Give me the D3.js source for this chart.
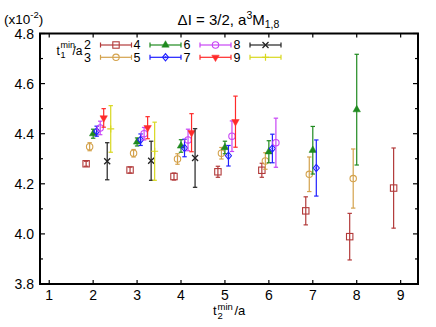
<!DOCTYPE html>
<html>
<head>
<meta charset="utf-8">
<script src="https://cdn.jsdelivr.net/npm/d3@7"></script>
<style>
html,body{margin:0;padding:0;background:#fff;}
svg{display:block;font-family:"Liberation Sans",Arial,Helvetica,sans-serif;}
</style>
</head>
<body>
<svg id="chart" width="436" height="327"></svg>
<script>
// ---- data ----
const t2Values = [2, 3, 4, 5, 6, 7, 8, 9];
const t1Labels = [2, 3, 4, 5, 6, 7, 8, 9];
const s2Val = [4.280, 4.255, 4.229, 4.248, 4.254, 4.092, 3.989, 4.183];
const s2Err = [0.010, 0.012, 0.014, 0.022, 0.028, 0.056, 0.093, 0.160];
const s3Val = [4.348, 4.322, 4.299, 4.322, 4.291, 4.238, 4.221];
const s3Err = [0.016, 0.015, 0.021, 0.023, 0.033, 0.069, 0.118];
const s4Val = [4.400, 4.367, 4.351, 4.345, 4.328, 4.334, 4.496];
const s4Err = [0.018, 0.016, 0.025, 0.025, 0.044, 0.095, 0.221];
const s5Val = [4.410, 4.376, 4.343, 4.312, 4.341, 4.263];
const s5Err = [0.020, 0.023, 0.035, 0.041, 0.057, 0.112];
const s6Val = [4.423, 4.400, 4.375, 4.390, 4.364];
const s6Err = [0.027, 0.025, 0.043, 0.061, 0.098];
const s7Val = [4.463, 4.424, 4.404, 4.448];
const s7Err = [0.037, 0.044, 0.076, 0.102];
const s8Val = [4.290, 4.292, 4.303];
const s8Err = [0.074, 0.078, 0.117];
const s9Val = [4.419, 4.330];
const s9Err = [0.093, 0.116];
const xTicks = [1, 2, 3, 4, 5, 6, 7, 8, 9];
const yTicks = [3.8, 4.0, 4.2, 4.4, 4.6, 4.8];

const seriesVals = [s2Val, s3Val, s4Val, s5Val, s6Val, s7Val, s8Val, s9Val];
const seriesErrs = [s2Err, s3Err, s4Err, s5Err, s6Err, s7Err, s8Err, s9Err];
const colors = ["#b23a3a", "#d4a24c", "#1f8a1f", "#1f1fff", "#c845f5", "#ff2a2a", "#222222", "#d8d820"];
const shapes = ["square", "circle", "triUp", "diamond", "circle", "triDown", "cross", "plus"];

// ---- layout ----
const L = 40, R = 418, T = 33.5, B = 284;
const svg = d3.select("#chart");
const x = d3.scaleLinear().domain([0.79, 9.395]).range([L, R]);
const y = d3.scaleLinear().domain([3.8, 4.8]).range([B, T]);
const offsetStep = 0.08;

// ticks
const g = svg.append("g");
const minorY = d3.range(3.9, 4.8, 0.2);
yTicks.forEach(v => {
  g.append("line").attr("x1", L).attr("x2", L + 5).attr("y1", y(v)).attr("y2", y(v)).attr("stroke", "#000").attr("stroke-width", 1.2);
  g.append("line").attr("x1", R).attr("x2", R - 5).attr("y1", y(v)).attr("y2", y(v)).attr("stroke", "#000").attr("stroke-width", 1.2);
  g.append("text").attr("x", 34).attr("y", y(v) + 5).attr("text-anchor", "end").attr("font-size", 14).text(v.toFixed(1));
});
minorY.forEach(v => {
  g.append("line").attr("x1", L).attr("x2", L + 3).attr("y1", y(v)).attr("y2", y(v)).attr("stroke", "#000").attr("stroke-width", 1.2);
  g.append("line").attr("x1", R).attr("x2", R - 3).attr("y1", y(v)).attr("y2", y(v)).attr("stroke", "#000").attr("stroke-width", 1.2);
});
xTicks.forEach(v => {
  g.append("line").attr("x1", x(v)).attr("x2", x(v)).attr("y1", B).attr("y2", B - 4).attr("stroke", "#000").attr("stroke-width", 1.2);
  g.append("line").attr("x1", x(v)).attr("x2", x(v)).attr("y1", T).attr("y2", T + 4).attr("stroke", "#000").attr("stroke-width", 1.2);
  g.append("text").attr("x", x(v)).attr("y", 300).attr("text-anchor", "middle").attr("font-size", 14).text(v);
});

// frame
svg.append("rect").attr("x", L).attr("y", T).attr("width", R - L).attr("height", B - T)
  .attr("fill", "none").attr("stroke", "#000").attr("stroke-width", 2);

// symbol drawer
function drawSymbol(sel, shape, cx, cy, color) {
  const sw = 1.1;
  if (shape === "square") {
    sel.append("rect").attr("x", cx - 3.2).attr("y", cy - 3.2).attr("width", 6.4).attr("height", 6.4)
      .attr("fill", "none").attr("stroke", color).attr("stroke-width", sw);
  } else if (shape === "circle") {
    sel.append("circle").attr("cx", cx).attr("cy", cy).attr("r", 3.2)
      .attr("fill", "none").attr("stroke", color).attr("stroke-width", sw);
  } else if (shape === "triUp") {
    sel.append("path").attr("d", d3.symbol(d3.symbolTriangle, 24)()).attr("transform", `translate(${cx},${cy})`)
      .attr("fill", color).attr("stroke", color).attr("stroke-width", 0.5);
  } else if (shape === "triDown") {
    sel.append("path").attr("d", d3.symbol(d3.symbolTriangle, 24)()).attr("transform", `translate(${cx},${cy}) rotate(180)`)
      .attr("fill", color).attr("stroke", color).attr("stroke-width", 0.5);
  } else if (shape === "diamond") {
    sel.append("path").attr("d", `M${cx},${cy - 3.6}L${cx + 3},${cy}L${cx},${cy + 3.6}L${cx - 3},${cy}Z`)
      .attr("fill", "none").attr("stroke", color).attr("stroke-width", sw);
    sel.append("circle").attr("cx", cx).attr("cy", cy).attr("r", 1).attr("fill", color);
  } else if (shape === "cross") {
    sel.append("path").attr("d", `M${cx - 3},${cy - 3}L${cx + 3},${cy + 3}M${cx - 3},${cy + 3}L${cx + 3},${cy - 3}`)
      .attr("stroke", color).attr("stroke-width", 1.3);
  } else if (shape === "plus") {
    sel.append("path").attr("d", `M${cx - 3.5},${cy}L${cx + 3.5},${cy}M${cx},${cy - 3.5}L${cx},${cy + 3.5}`)
      .attr("stroke", color).attr("stroke-width", 1.2);
  }
}

// data points
const pts = svg.append("g");
seriesVals.forEach((vals, si) => {
  const col = colors[si];
  const sg = pts.append("g");
  vals.forEach((v, i) => {
    const xv = x(t2Values[i] + (t1Labels[si] - 4) * offsetStep);
    const e = seriesErrs[si][i];
    const y1 = y(v + e), y2 = y(v - e);
    sg.append("line").attr("x1", xv).attr("x2", xv).attr("y1", y1).attr("y2", y2).attr("stroke", col).attr("stroke-width", 1.2);
    sg.append("line").attr("x1", xv - 2.2).attr("x2", xv + 2.2).attr("y1", y1).attr("y2", y1).attr("stroke", col).attr("stroke-width", 1.2);
    sg.append("line").attr("x1", xv - 2.2).attr("x2", xv + 2.2).attr("y1", y2).attr("y2", y2).attr("stroke", col).attr("stroke-width", 1.2);
    drawSymbol(sg, shapes[si], xv, y(v), col);
  });
});

// legend
const lg = svg.append("g");
const colX = [100.5, 150, 200, 250];
const rowY = [45, 57.3];
t1Labels.forEach((lab, si) => {
  const c = Math.floor(si / 2), r = si % 2;
  const x0 = colX[c], x1 = x0 + 31, yy = rowY[r], col = colors[si];
  lg.append("text").attr("x", x0 - 9.5).attr("y", yy + 4.3).attr("text-anchor", "end").attr("font-size", 12.5).text(lab);
  lg.append("line").attr("x1", x0).attr("x2", x1).attr("y1", yy).attr("y2", yy).attr("stroke", col).attr("stroke-width", 1.2);
  lg.append("line").attr("x1", x0).attr("x2", x0).attr("y1", yy - 2.5).attr("y2", yy + 2.5).attr("stroke", col).attr("stroke-width", 1.2);
  lg.append("line").attr("x1", x1).attr("x2", x1).attr("y1", yy - 2.5).attr("y2", yy + 2.5).attr("stroke", col).attr("stroke-width", 1.2);
  drawSymbol(lg, shapes[si], (x0 + x1) / 2, yy, col);
});
// legend title t1^min/a (single text, stacked sub/superscript)
const lt = lg.append("text").attr("x", 56.5).attr("y", 54.5).attr("font-size", 12);
lt.append("tspan").text("t");
lt.append("tspan").attr("x", 60.5).attr("y", 47.5).attr("font-size", 9).text("min");
lt.append("tspan").attr("x", 60.5).attr("y", 57.5).attr("font-size", 9).text("1");
lt.append("tspan").attr("x", 72.5).attr("y", 54.5).text("/a");

// title
const title = svg.append("text").attr("x", 228.5).attr("y", 25).attr("text-anchor", "middle").attr("font-size", 15);
title.append("tspan").text("ΔI = 3/2, a");
title.append("tspan").attr("font-size", 10.5).attr("dy", -6).text("3");
title.append("tspan").attr("dy", 6).text("M");
title.append("tspan").attr("font-size", 10.5).attr("dy", 3).text("1,8");

// scale factor
const sf = svg.append("text").attr("x", 4).attr("y", 24).attr("font-size", 13.5);
sf.append("tspan").text("(x10");
sf.append("tspan").attr("font-size", 9.5).attr("dy", -6).text("-2");
sf.append("tspan").attr("dy", 6).text(")");

// x axis label t2^min/a (single text, stacked sub/superscript)
const xl = svg.append("text").attr("x", 213).attr("y", 314.5).attr("font-size", 13);
xl.append("tspan").text("t");
xl.append("tspan").attr("x", 217.5).attr("y", 309.5).attr("font-size", 9.5).text("min");
xl.append("tspan").attr("x", 217.5).attr("y", 318.5).attr("font-size", 9.5).text("2");
xl.append("tspan").attr("x", 234.5).attr("y", 314.5).text("/a");
</script>
</body>
</html>
